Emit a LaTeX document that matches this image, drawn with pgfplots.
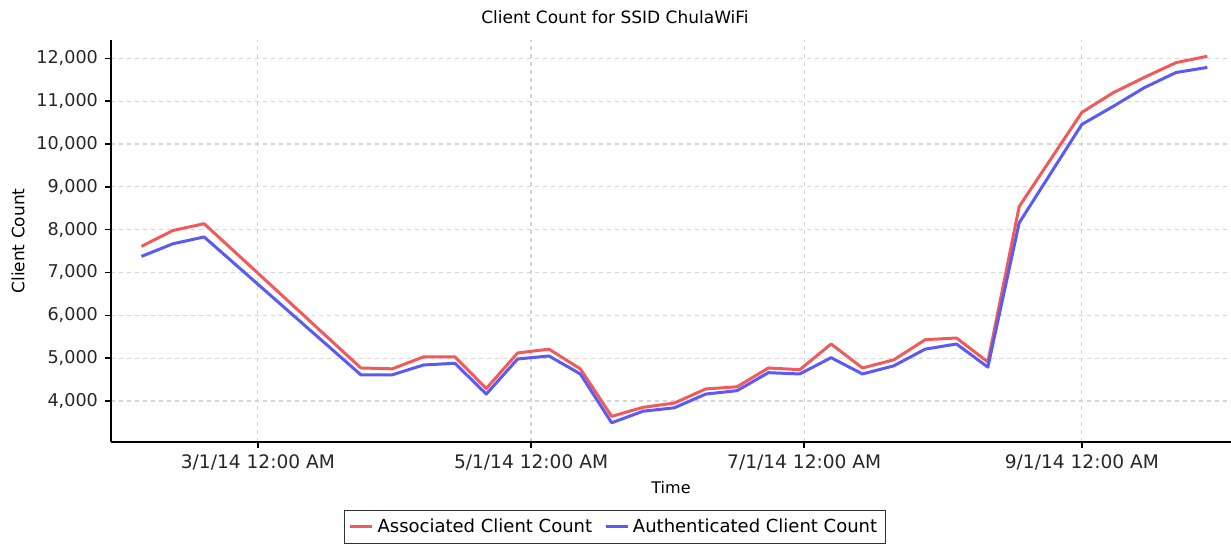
\documentclass[border=0pt]{standalone}
\usepackage{fontspec}
\setmainfont{DejaVu Sans}
\usepackage{pgfplots}
\pgfplotsset{compat=1.18}
\usepackage{pgfplotstable}
\usepackage{xcolor}
\definecolor{assocred}{HTML}{F25A5A}
\definecolor{authblue}{HTML}{5A5AF5}
\definecolor{gridgray}{HTML}{D4D4D4}

% day 0 = 3/1/14, one row per week
\pgfplotstableread{
day assoc auth
-26 7610 7375
-19 7980 7670
-12 8140 7830
23 4770 4610
30 4750 4610
37 5030 4840
44 5030 4880
51 4290 4160
58 5120 4980
65 5210 5050
72 4750 4630
79 3640 3490
86 3850 3760
93 3950 3840
100 4280 4160
107 4330 4240
114 4770 4660
121 4730 4630
128 5330 5010
135 4770 4630
142 4960 4820
149 5430 5210
156 5470 5330
163 4910 4790
170 8540 8160
184 10740 10460
191 11200 10880
198 11560 11320
205 11900 11670
212 12050 11790
}\clients

\begin{document}
\begin{tikzpicture}
\begin{axis}[
  name=ax,at={(0pt,0pt)},anchor=south west,
  scale only axis,width=560pt,height=201pt,
  axis lines=left,axis line style={line width=1pt,-},
  xmin=-32.8,xmax=217.3,ymin=3041,ymax=12430,
  xtick={0,61,122,184},
  xticklabels={3/1/14 12:00 AM,5/1/14 12:00 AM,7/1/14 12:00 AM,9/1/14 12:00 AM},
  ytick={4000,5000,...,12000},
  /pgf/number format/assume math mode=true,
  /pgf/number format/1000 sep={,},
  scaled y ticks=false,
  tick align=outside,major tick length=3pt,
  tick style={black,line width=0.8pt},
  xticklabel style={font=\fontsize{9.3}{11}\selectfont,text=black!85},
  yticklabel style={font=\fontsize{8.8}{11}\selectfont,text=black!85},
  grid=major,
  major grid style={gridgray,line width=0.6pt,dash pattern=on 2pt off 2pt},
  title={Client Count for SSID ChulaWiFi},
  title style={font=\fontsize{8.5}{10}\selectfont,at={(0.45,1.055)},anchor=center,yshift=-5.5pt},
  xlabel={Time},
  xlabel style={font=\fontsize{8}{10}\selectfont,at={(0.5,-0.114)},anchor=center},
  ylabel={Client Count},
  ylabel style={font=\fontsize{8.5}{10}\selectfont,at={(-0.083,0.5)},anchor=center},
  legend columns=2,
  legend style={at={(0.45,-0.169)},anchor=north,draw=black!80,line width=0.5pt,
    font=\fontsize{9}{11}\selectfont,inner sep=2pt,
    /tikz/every even column/.append style={column sep=4pt}},
  legend image code/.code={\draw[#1,line width=1.4pt] (0pt,0pt) -- (11pt,0pt);},
  legend cell align=left,
]
\addplot[assocred,line width=1.5pt,line join=round] table[x=day,y=assoc] {\clients};
\addlegendentry{Associated Client Count}
\addplot[authblue,line width=1.5pt,line join=round] table[x=day,y=auth] {\clients};
\addlegendentry{Authenticated Client Count}
\end{axis}
\pgfresetboundingbox
\path[use as bounding box] ([shift={(-55.5pt,-52pt)}]ax.south west) rectangle ([shift={(560pt,221pt)}]ax.south west);
\end{tikzpicture}
\end{document}
